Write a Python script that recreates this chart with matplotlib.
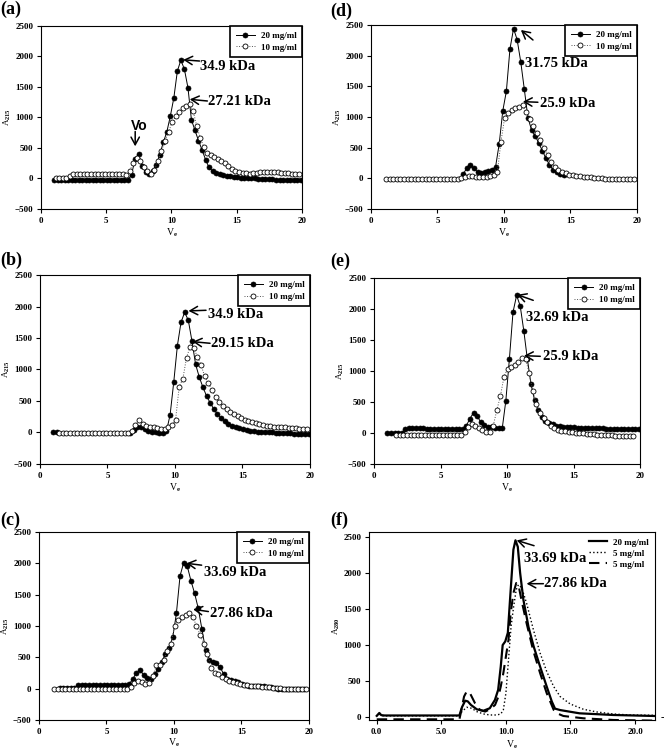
import matplotlib
matplotlib.use('Agg')
import matplotlib.pyplot as plt

plt.rcParams['font.family'] = 'Liberation Serif'
plt.rcParams['font.weight'] = 'bold'
plt.rcParams['mathtext.fontset'] = 'custom'
plt.rcParams['mathtext.rm'] = 'Liberation Serif:bold'
plt.rcParams['mathtext.bf'] = 'Liberation Serif:bold'
plt.rcParams['mathtext.it'] = 'Liberation Serif:bold'
plt.rcParams['mathtext.default'] = 'rm'

# elution volumes of the collected fractions (ml)
VE = [1.00, 1.27, 1.54, 1.81, 2.08, 2.35, 2.62, 2.89, 3.16, 3.43, 3.70, 3.97,
      4.24, 4.51, 4.78, 5.05, 5.32, 5.59, 5.86, 6.13, 6.40, 6.67, 6.94, 7.21,
      7.48, 7.75, 8.02, 8.29, 8.56, 8.83, 9.10, 9.37, 9.64, 9.91, 10.18, 10.45,
      10.72, 10.99, 11.26, 11.53, 11.80, 12.07, 12.34, 12.61, 12.88, 13.15,
      13.42, 13.69, 13.96, 14.23, 14.50, 14.77, 15.04, 15.31, 15.58, 15.85,
      16.12, 16.39, 16.66, 16.93, 17.20, 17.47, 17.74, 18.01, 18.28, 18.55,
      18.82, 19.09, 19.36, 19.63, 19.90]
SHIFT = 0.135  # 10 mg/ml runs sit half a fraction later

N = None
# (a)
A_20 = [-20, -20, -20, -20, -20, -20, -20, -20, -20, -20, -20, -20, -20, -20, -20, -20,
        -20, -20, -20, -20, -20, -20,
        60, 320, 400, 200, 110, 80, 130, 220, 390, 590, 760, 1020, 1320, 1760, 1940, 1790,
        1490, 960, 790, 620, 470, 310, 180, 120, 90, 70, 55, 45, 35, 25, 20, 15, 10, 5, 0, 0,
        -5, -10, -10, -15, -15, -20, -20, -20, -25, -25, -25, -30, -30]
A_10 = [0, 0, 0, 0, 40, 80, 80, 75, 70, 70, 70, 70, 70, 70, 70, 70, 70, 70, 70, 70, 65,
        130, 250, 330, 280, 180, 120, 80, 140, 290, 450, 620, 760, 920, 1020, 1090, 1150,
        1190, 1220, 1100, 860, 660, 520, 420, 380, 350, 320, 290, 250, 200, 160, 130, 105,
        90, 85, 80, 85, 90, 100, 105, 110, 110, 105, 100, 95, 90, 85, 80, 80, 75]
# (b)
B_20 = [0, 0, N, N, N, N, N, N, N, N, N, N, N, N, N, N, N, N, N, N, N,
        -10, 40, 90, 80, 50, 20, 5, 0, -5, -5, 20, 280, 800, 1380, 1750, 1910, 1780, 1450,
        1080, 880, 720, 580, 470, 370, 290, 230, 180, 140, 110, 85, 65, 50, 40, 30, 20, 15,
        10, 5, 0, 0, -5, -10, -10, -15, -15, -20, -20, -25, -25, -30]
B_10 = [N, -15, -15, -15, -15, -15, -15, -15, -15, -15, -15, -15, -15, -15, -15, -15, -15,
        -15, -15, -15, -15,
        20, 120, 200, 140, 110, 95, 80, 70, 55, 50, 90, 120, 200, 730, 850, 1190, 1360, 1340,
        1200, 1070, 890, 780, 670, 560, 480, 420, 370, 330, 290, 260, 230, 200, 180, 160,
        145, 130, 120, 110, 100, 95, 90, 85, 80, 75, 70, 65, 60, 55, 50]
# (c)
C_20 = [N, N, 5, 5, 5, 5, 5, 60, 65, 60, 55, 55, 55, 55, 55, 55, 55, 55, 55, 55, 55,
        70, 150, 250, 290, 220, 170, 150, 230, 320, 420, 560, 650, 820, 1200, 1800, 2010,
        1950, 1720, 1520, 1280, 950, 620, 460, 430, 410, 340, 230, 160, 130, 120, 110, 80,
        50, 40, 40, 35, 40, 40, 30, 20, 10, 0, -5, -5, -10, -10, -10, -10, -10]
C_10 = [-10, -10, -10, -10, -10, -10, -10, -10, -10, -10, -10, -10, -10, -10, -10, -10,
        -10, -10, -10, -10, -10,
        20, 90, 120, 110, 80, 90, 200, 370, 380, 460, 600, 720, 1000, 1090, 1150, 1180,
        1200, 1150, 1000, 860, 720, 560, 330, 250, 240, 190, 150, 120, 100, 85, 75, 65, 55,
        45, 40, 35, 30, 25, 20, 15, 10, 5, 0, -5, -5, -10, -10, -10, -10]
# (d)
D_20 = [N, N, N, N, N, N, N, N, N, N, N, N, N, N, N, N, N, N, N, N, N, N,
        70, 170, 215, 160, 100, 80, 95, 115, 140, 190, 560, 1100, 1420, 2110, 2440, 2260,
        1900, 1450, 990, 790, 690, 580, 450, 330, 220, 140, 100, 70, 50]
D_10 = [-10, -10, -10, -10, -10, -10, -10, -10, -10, -10, -10, -10, -10, -10, -10, -10,
        -10, -10, -10, -10, -10,
        0, 20, 30, 30, 25, 20, 20, 25, 30, 50, 100, 600, 980, 1070, 1110, 1140, 1170, 1190,
        1080, 960, 850, 740, 620, 500, 380, 270, 190, 130, 100, 80, 60, 50, 40, 30, 25, 20,
        15, 10, 5, 0, -5, -5, -10, -10, -10, -10, -10, -10, -10]
# (e)
E_20 = [0, 0, 0, 0, 0, 60, 85, 85, 80, 75, 75, 70, 70, 70, 70, 70, 70, 70, 70, 70, 70, 70,
        120, 230, 330, 270, 180, 130, 100, 90, 80, 75, 75, 520, 1200, 1950, 2220, 2050, 1650,
        1190, 790, 530, 370, 260, 200, 165, 140, 120, 105, 100, 95, 90, 90, 85, 85, 80, 80,
        80, 75, 75, 75, 70, 70, 70, 70, 70, 70, 70, 70, 70, 70]
E_10 = [N, N, -40, -40, -40, -40, -40, -40, -40, -40, -40, -40, -40, -40, -40, -40, -40,
        -40, -40, -40, -40,
        20, 100, 150, 120, 80, 50, 15, 20, 120, 370, 600, 910, 1040, 1060, 1090, 1150, 1210,
        1200, 960, 680, 470, 320, 240, 180, 120, 80, 50, 35, 25, 15, 10, 5, 0, -5, -10, -15,
        -20, -25, -30, -35, -40, -40, -45, -45, -45, -50, -50, -50]

# (f) continuous traces, A280
F20_X = [0.0, 0.2, 0.35, 0.6, 3.0, 6.4, 6.6, 6.85, 7.05, 7.3, 7.75, 8.25, 8.75, 9.15, 9.4,
         9.6, 9.75, 9.95, 10.15, 10.32, 10.58, 10.74, 10.92, 11.1, 11.35, 11.75, 12.15,
         12.65, 13.15, 13.55, 13.8, 14.2, 15.7, 18.3, 21.5]
F20_Y = [20, 60, 30, 25, 25, 25, 140, 230, 220, 170, 110, 90, 125, 240, 380, 700, 1000,
         1050, 1170, 1630, 2320, 2450, 2360, 2000, 1630, 1250, 980, 700, 430, 220, 120, 100,
         55, 32, 18]
F5A_X = [0.0, 0.2, 0.35, 3.0, 6.4, 6.6, 6.97, 7.35, 7.74, 8.26, 8.77, 9.3, 9.6, 9.8, 10.0,
         10.2, 10.4, 10.6, 10.8, 10.97, 11.23, 11.6, 12.13, 12.65, 13.16, 13.7, 14.2, 14.97,
         16.0, 17.03, 18.3, 19.6, 21.5]
F5A_Y = [20, 50, 20, 20, 20, 80, 139, 125, 79, 46, 32, 32, 46, 100, 333, 795, 1257, 1534,
         1766, 1835, 1789, 1580, 1211, 887, 633, 425, 287, 185, 111, 74, 46, 32, 28]
F5B_X = [0.0, 3.0, 6.4, 6.5, 6.76, 6.97, 7.22, 7.61, 8.0, 8.39, 8.77, 9.16, 9.42, 9.6, 9.8,
         10.0, 10.2, 10.37, 10.58, 10.8, 10.97, 11.2, 11.6, 12.1, 12.65, 13.16, 13.7, 13.96,
         14.45, 16.0, 18.3, 21.5]
F5B_Y = [-28, -28, -28, 55, 287, 360, 333, 194, 102, 79, 111, 171, 287, 425, 610, 841,
         1072, 1442, 1719, 1858, 1835, 1627, 1303, 933, 610, 333, 102, 55, 18, -14, -37, -46]

fig = plt.figure(figsize=(6.64, 7.52), dpi=100)

TICK = dict(direction='out', length=3, width=0.8, labelsize=6.5, pad=2.5)
ARROW = dict(arrowstyle='->, head_length=0.55, head_width=0.3',
             lw=1.1, color='black', shrinkA=0, shrinkB=0)


def pts(y, shift=0.0):
    xs = [v + shift for v, w in zip(VE, y) if w is not None]
    ys = [w for w in y if w is not None]
    return xs, ys


def style(ax, ylab):
    for s in ax.spines.values():
        s.set_linewidth(0.8)
    ax.tick_params(**TICK)
    ax.set_ylabel(ylab, fontsize=6.5, labelpad=1)
    ax.set_xlabel(r'V$_e$', fontsize=7, labelpad=1)


def panel(rect, y20, y10, notes):
    ax = fig.add_axes(rect)
    x, y = pts(y20)
    ax.plot(x, y, '-', color='black', lw=0.7, marker='o', ms=3.6,
            mfc='black', mec='black', mew=0.5, label='20 mg/ml')
    x, y = pts(y10, SHIFT)
    ax.plot(x, y, ':', color='#555555', lw=0.7, marker='o', ms=3.6,
            mfc='white', mec='black', mew=0.6, label='10 mg/ml')
    ax.set_xlim(0, 20)
    ax.set_ylim(-500, 2500)
    ax.set_xticks([0, 5, 10, 15, 20])
    ax.set_yticks([-500, 0, 500, 1000, 1500, 2000, 2500])
    style(ax, r'A$_{215}$')
    leg = ax.legend(loc='upper right', bbox_to_anchor=(1, 1), borderaxespad=0,
                    fontsize=6.5, fancybox=False, edgecolor='black', framealpha=1,
                    handlelength=2.2, handletextpad=0.6, borderpad=0.6, labelspacing=0.4)
    leg.get_frame().set_linewidth(1.2)
    for txt, head, tail, pos in notes:
        ax.annotate('', xy=head, xytext=tail, arrowprops=ARROW)
        ax.text(pos[0], pos[1], txt, fontsize=10.5, fontweight='bold', va='center', ha='left')
    return ax


ax_a = panel([0.0617, 0.7221, 0.3931, 0.2434], A_20, A_10,
             [('34.9 kDa', (10.9, 1945), (12.15, 1925), (12.15, 1830)),
              ('27.21 kDa', (11.4, 1297), (12.75, 1270), (12.8, 1265))])
ax_a.annotate('', xy=(7.22, 527), xytext=(7.22, 770), arrowprops=ARROW)
ax_a.text(7.5, 860, 'Vo', fontsize=10, fontweight='bold', family='Liberation Sans',
          ha='center', va='center')

panel([0.5587, 0.7221, 0.4006, 0.2447], D_20, D_10,
      [('31.75 kDa', (11.27, 2418), (12.18, 2255), (11.55, 1875)),
       ('25.9 kDa', (11.42, 1250), (12.55, 1240), (12.69, 1215))])
panel([0.0602, 0.3830, 0.4066, 0.2513], B_20, B_10,
      [('34.9 kDa', (11.0, 1930), (12.3, 1940), (12.45, 1866)),
       ('29.15 kDa', (11.31, 1442), (12.6, 1416), (12.64, 1416))])
panel([0.5633, 0.3830, 0.4006, 0.2473], E_20, E_10,
      [('32.69 kDa', (10.77, 2231), (11.97, 2140), (11.42, 1855)),
       ('25.9 kDa', (11.27, 1247), (12.5, 1237), (12.67, 1226))])
panel([0.0587, 0.0426, 0.4066, 0.2500], C_20, C_10,
      [('33.69 kDa', (10.92, 2000), (12.05, 1970), (12.2, 1851)),
       ('27.86 kDa', (11.42, 1266), (12.55, 1230), (12.7, 1202))])

# (f)
ax_f = fig.add_axes([0.5557, 0.0426, 0.4307, 0.2500])
ax_f.plot(F20_X, F20_Y, '-', color='black', lw=1.6, label='20 mg/ml')
ax_f.plot(F5A_X, F5A_Y, ':', color='black', lw=1.0, label='5 mg/ml')
ax_f.plot(F5B_X, F5B_Y, '--', color='black', lw=1.5, dashes=(5, 3), label='5 mg/ml')
ax_f.set_xlim(-0.6, 21.54)
ax_f.set_ylim(-37, 2565)
ax_f.set_xticks([0, 5, 10, 15, 20])
ax_f.set_xticklabels(['0.0', '5.0', '10.0', '15.0', '20.0'])
ax_f.set_yticks([0, 500, 1000, 1500, 2000, 2500])
style(ax_f, r'A$_{280}$')
ax_f.xaxis.labelpad = 2
ax_f.legend(loc='upper right', bbox_to_anchor=(1, 1), borderaxespad=0.3, frameon=False,
            fontsize=6.5, handlelength=2.0, handletextpad=0.6, borderpad=0.4,
            labelspacing=0.3)
ax_f.annotate('', xy=(10.83, 2449), xytext=(12.18, 2375), arrowprops=ARROW)
ax_f.text(11.4, 2191, '33.69 kDa', fontsize=10.5, fontweight='bold', va='center')
ax_f.annotate('', xy=(11.6, 1849), xytext=(12.9, 1849), arrowprops=ARROW)
ax_f.text(12.95, 1849, '27.86 kDa', fontsize=10.5, fontweight='bold', va='center')
fig.text(661 / 664, 1 - 718 / 752, '-', fontsize=8, fontweight='bold', va='center')

for lab, x, y in [('(a)', 0.0, 0.999), ('(d)', 0.497, 0.997), ('(b)', 0.0, 0.665),
                  ('(e)', 0.497, 0.664), ('(c)', 0.0, 0.319), ('(f)', 0.497, 0.319)]:
    fig.text(x, y, lab, fontsize=13, fontweight='bold', va='top', ha='left')

fig.savefig('out.png', dpi=100)
